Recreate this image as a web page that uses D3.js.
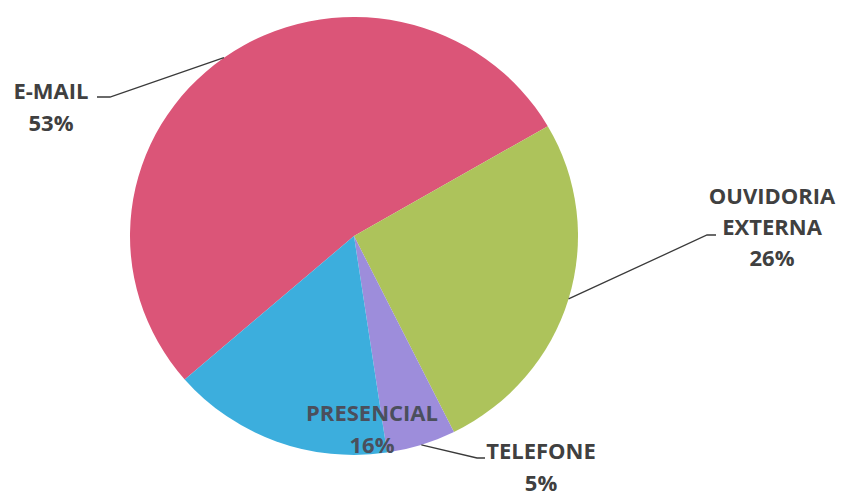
<!DOCTYPE html>
<html><head><meta charset="utf-8">
<script src="https://cdn.jsdelivr.net/npm/d3@7"></script>
<style>
html,body{margin:0;padding:0;background:#fff;}
svg{display:block;}
text{font-family:"Open Sans",sans-serif;font-weight:700;}
</style></head>
<body>
<svg id="chart" width="842" height="499"></svg>
<script>
// Data
const categories = ["E-MAIL", "OUVIDORIA EXTERNA", "TELEFONE", "PRESENCIAL"];
const values = [53, 26, 5, 16];
const labelLines = [["E-MAIL", "53%"], ["OUVIDORIA", "EXTERNA", "26%"], ["TELEFONE", "5%"], ["PRESENCIAL", "16%"]];
const colors = ["#db5578", "#adc35b", "#9d8ddb", "#3caedd"];

// Layout
const W = 842, H = 499;
const cx = 354, cy = 236, rx = 224, ry = 219;
const startDeg = -130.9;
// label anchor (text center x, first baseline y) and leader elbow
const labelLayout = [
  {x: 51, y: 99, lh: 32, elbow: [97, 97], elbowEnd: [110, 97]},
  {x: 772, y: 204, lh: 31, elbow: [716, 235], elbowEnd: [707, 235]},
  {x: 541, y: 459, lh: 32, elbow: [485, 458], elbowEnd: [477, 458]},
  {x: 372, y: 421, lh: 32, elbow: null}
];

const svg = d3.select("#chart");
const g = svg.append("g").attr("transform", `translate(${cx},${cy}) scale(1,${ry/rx})`);

const pie = d3.pie().sort(null).value(d => d)
  .startAngle(startDeg * Math.PI / 180)
  .endAngle(startDeg * Math.PI / 180 + 2 * Math.PI);
const arcs = pie(values);
const arc = d3.arc().innerRadius(0).outerRadius(rx);

g.selectAll("path.slice").data(arcs).enter().append("path")
  .attr("class", "slice")
  .attr("d", arc)
  .attr("fill", (d, i) => colors[i])
  .attr("stroke", "none");

// leader lines
arcs.forEach((a, i) => {
  const L = labelLayout[i];
  if (!L.elbow) return;
  const mid = (a.startAngle + a.endAngle) / 2;
  const px = cx + Math.sin(mid) * rx;
  const py = cy - Math.cos(mid) * ry;
  svg.append("path")
    .attr("d", d3.line()([[px, py], L.elbowEnd, L.elbow]))
    .attr("fill", "none")
    .attr("stroke", "#3a3a3a")
    .attr("stroke-width", 1.3);
});

// labels
labelLines.forEach((lines, i) => {
  const L = labelLayout[i];
  const t = svg.append("text")
    .attr("text-anchor", "middle")
    .attr("font-size", 22)
    .attr("fill", i === 3 ? "#4b4f5c" : "#404040");
  lines.forEach((s, j) => {
    t.append("tspan").attr("x", L.x).attr("y", L.y + j * L.lh).text(s);
  });
});
</script>
</body></html>
